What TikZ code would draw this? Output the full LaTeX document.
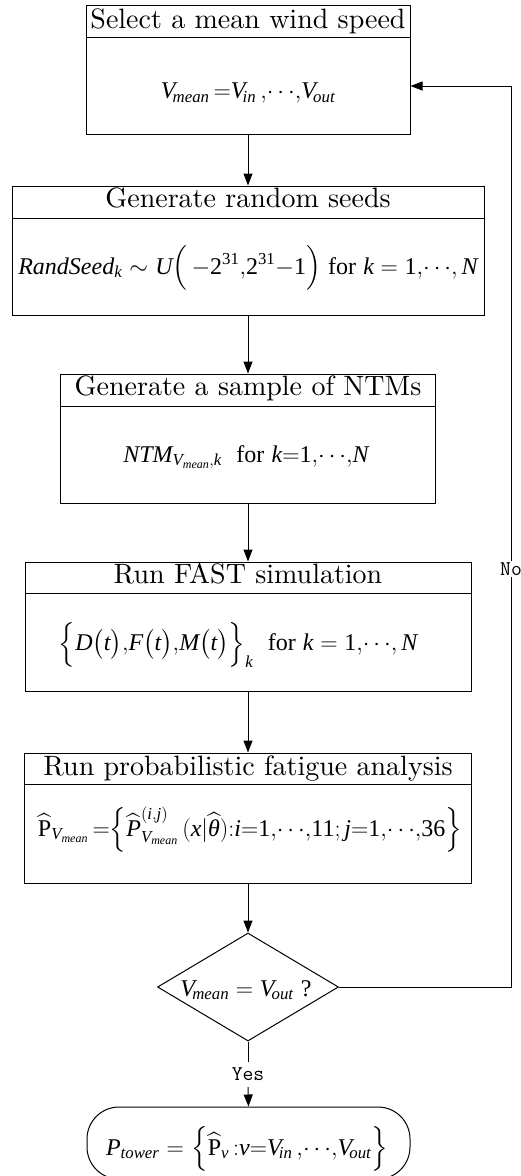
\RequirePackage{fix-cm}
\documentclass[tikz,border=0pt]{standalone}
\usepackage{amsmath}
\usepackage{fontspec}
\newfontfamily\tnr{Liberation Serif}
\usetikzlibrary{arrows.meta,shapes.geometric}
\newcommand{\mi}[1]{\text{\tnr\itshape #1}}
\newcommand{\mr}[1]{\text{\tnr #1}}
\newcommand{\cd}{{\cdots}}
\tikzset{
  box/.style={draw, line width=1pt, inner sep=0pt},
  ttl/.style={font=\fontsize{10}{12}\selectfont, scale=2.8, transform shape, inner sep=0pt, anchor=base},
  fml/.style={font=\fontsize{24}{28}\selectfont, inner sep=0pt},
  conn/.style={line width=1pt, -{Triangle[length=12pt,width=9pt]}},
  plain/.style={line width=1pt},
  lbl/.style={font=\ttfamily\fontsize{21}{22}\selectfont, fill=white, inner sep=0pt},
}
\begin{document}
\begin{tikzpicture}[x=1pt,y=-1pt]
\clip (0,0) rectangle (520,1176);
\useasboundingbox (0,0) rectangle (520,1176);

% box 1
\node[box, minimum width=324pt, minimum height=129pt] (b1) at (248,69.5) {};
\draw[plain] (86,37) -- (410,37);
\node[ttl] (t1) at (248,28) {Select a mean wind speed};
\node[fml] (f1) at (248,93) {$\mi{V}_{\!\mi{mean}}\,{=}\mi{V}_{\!\mi{in}}\,{,}\cd{,}\mi{V}_{\!\mi{out}}$};

% box 2
\node[box, minimum width=472pt, minimum height=129pt] (b2) at (248,250.5) {};
\draw[plain] (12,218) -- (484,218);
\node[ttl] (t2) at (248,207) {Generate random seeds};
\node[fml] (f2) at (248,268) {$\mi{RandSeed}_{\mi{k}}\ {\sim}\ \mi{U}\Bigl(\,{-}\mr{2}^{\mr{31}}{,}\mr{2}^{\mr{31}}{-}\mr{1}\Bigr)\ \mr{for}\ \mi{k}=\mr{1}{,}\cd{,}\,\mi{N}$};

% box 3
\node[box, minimum width=375pt, minimum height=129pt] (b3) at (248,438.5) {};
\draw[plain] (60.5,406) -- (435.5,406);
\node[ttl] (t3) at (248,395) {Generate a sample of NTMs};
\node[fml] (f3) at (246,457) {$\mi{NTM}_{\mi{V}_{\mi{mean}},\mi{k}}\ \ \mr{for}\ \mi{k}{=}\mr{1}{,}\cd{,}\mi{N}$};

% box 4
\node[box, minimum width=446pt, minimum height=129pt] (b4) at (248,626.5) {};
\draw[plain] (25,593) -- (471,593);
\node[ttl] (t4) at (248,583) {Run FAST simulation};
\node[fml] (f4) at (238,645) {$\Bigl\{\mi{D}\bigl(\mi{t}\bigr){,}\mi{F}\bigl(\mi{t}\bigr){,}\mi{M}\bigl(\mi{t}\bigr)\Bigr\}_{\mi{k}}\ \ \mr{for}\ \mi{k}=\mr{1}{,}\cd{,}\,\mi{N}$};

% box 5
\node[box, minimum width=447pt, minimum height=130pt] (b5) at (248,818) {};
\draw[plain] (24.5,784) -- (471.5,784);
\node[ttl] (t5) at (248,775) {Run probabilistic fatigue analysis};
\node[fml] (f5) at (250,830) {$\widehat{\mr{P}}_{\mi{V}_{\mi{mean}}}\,{=}\!\left\{\widehat{\mi{P}}^{(\mi{i},\mi{j})}_{\mi{V}_{\mi{mean}}}\,(\mi{x}|\widehat{\mi{θ}}){:}\mi{i}{=}\mr{1}{,}\cd{,}\mr{11}{;}\,\mi{j}{=}\mr{1}{,}\cd{,}\mr{36}\right\}$};

% decision
\node[diamond, draw, line width=1pt, minimum width=181pt, minimum height=108pt, inner sep=0pt] (d) at (248,987) {};
\node[fml] (fd) at (246,990) {$\mi{V}_{\!\mi{mean}} = \mi{V}_{\!\mi{out}}\ \mr{?}$};

% terminal
\node[draw, line width=1pt, rounded corners=32pt, minimum width=323pt, minimum height=72pt, inner sep=0pt] (term) at (248.5,1143) {};
\node[fml] (ft) at (247,1149) {$\mi{P}_{\mi{tower}}\ {=}\ \Bigl\{\widehat{\mr{P}}_{\mi{v}}\,{:}\mi{v}{=}\mi{V}_{\!\mi{in}}\,{,}\cd{,}\mi{V}_{\!\mi{out}}\Bigr\}$};

% labels
\node[lbl, minimum height=25pt, fill=none] (yes) at (248,1074.5) {Yes};
\node[lbl, minimum height=16pt] (no) at (511,569) {No};
\coordinate (fb) at (511,86);

% connectors
\draw[conn] (b1.south) -- (b2.north);
\draw[conn] (b2.south) -- (b3.north);
\draw[conn] (b3.south) -- (b4.north);
\draw[conn] (b4.south) -- (b5.north);
\draw[conn] (b5.south) -- (d.north);
\draw[plain] (d.south) -- (yes.north);
\draw[conn] (yes.south) -- (term.north);
\draw[plain] (d.east) -| (no.south);
\draw[conn] (no.north) |- (b1.east |- fb);
\end{tikzpicture}
\end{document}
